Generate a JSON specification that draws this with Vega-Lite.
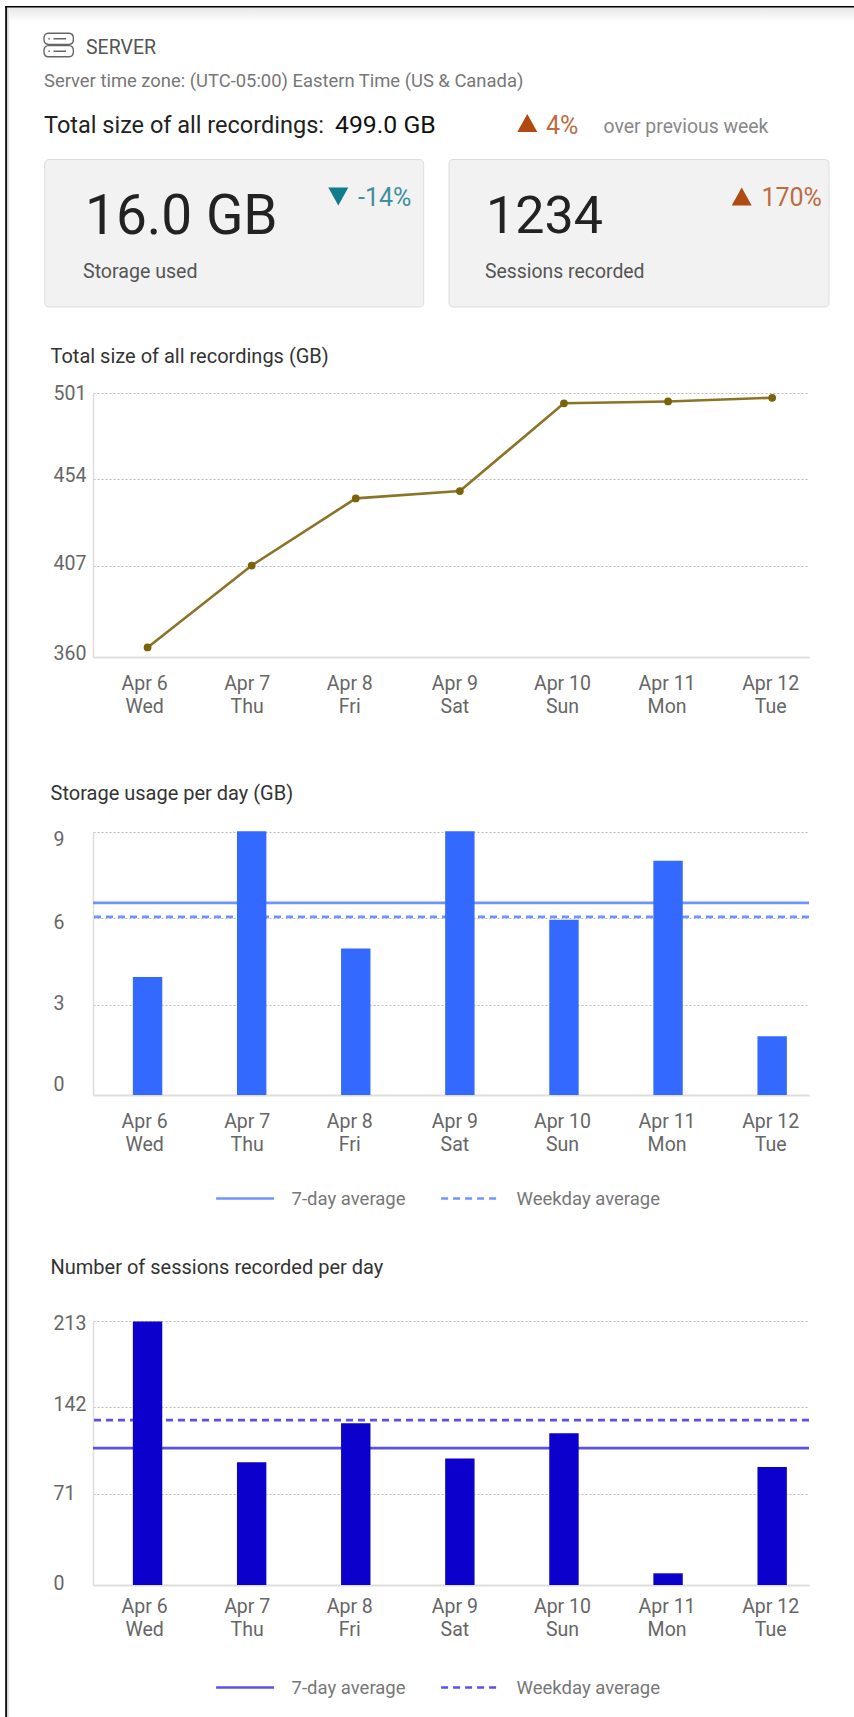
{"$schema":"https://vega.github.io/schema/vega-lite/v6.json","padding":0,"background":"white","autosize":{"type":"pad"},"bounds":"flush","spacing":0,"resolve":{"scale":{"color":"independent","strokeDash":"independent"},"legend":{"color":"independent","strokeDash":"independent"}},"config":{"view":{"stroke":null},"font":"Roboto","axis":{"labelFont":"Roboto","labelFontSize":19.5,"labelColor":"#666666","ticks":false,"title":null},"legend":{"labelFont":"Roboto","labelFontSize":18.5,"labelColor":"#777777"}},"vconcat":[
{"width":716,"height":393,"layer":[
{"data":{"values":[{"label":"page"}]},"mark":{"type":"rect","fill":"white"},"encoding":{"x":{"datum":0,"type":"quantitative","scale":{"domain":[0,854],"range":[-93,761],"nice":false,"zero":false},"axis":null},"x2":{"datum":854},"y":{"datum":0,"type":"quantitative","scale":{"domain":[0,1717],"range":[0,1717],"nice":false,"zero":false},"axis":null},"y2":{"datum":1717}}},
{"data":{"values":[{"label":"shadow top"}]},"mark":{"type":"rect","fill":{"gradient":"linear","x1":0,"y1":0,"x2":0,"y2":1,"stops":[{"offset":0,"color":"#e6e6e6"},{"offset":1,"color":"#ffffff"}]}},"encoding":{"x":{"datum":7,"type":"quantitative","axis":null},"x2":{"datum":854},"y":{"datum":7,"type":"quantitative","axis":null},"y2":{"datum":22}}},
{"data":{"values":[{"label":"shadow left"}]},"mark":{"type":"rect","fill":{"gradient":"linear","x1":0,"y1":0,"x2":1,"y2":0,"stops":[{"offset":0,"color":"#c4c4c4"},{"offset":1,"color":"#ffffff"}]}},"encoding":{"x":{"datum":6.5,"type":"quantitative","axis":null},"x2":{"datum":10},"y":{"datum":7,"type":"quantitative","axis":null},"y2":{"datum":1717}}},
{"data":{"values":[{"label":"frame top"}]},"mark":{"type":"rect","fill":"#000000"},"encoding":{"x":{"datum":5.2,"type":"quantitative","axis":null},"x2":{"datum":854},"y":{"datum":6,"type":"quantitative","axis":null},"y2":{"datum":7.4}}},
{"data":{"values":[{"label":"frame left"}]},"mark":{"type":"rect","fill":"#000000"},"encoding":{"x":{"datum":5.2,"type":"quantitative","axis":null},"x2":{"datum":6.9},"y":{"datum":6,"type":"quantitative","axis":null},"y2":{"datum":1717}}},
{"data":{"values":[{"label":"server icon"}]},"mark":{"type":"point","filled":false,"stroke":"#666666","strokeWidth":1.4,"size":870,"opacity":1,"shape":"M-0.7 -0.8H0.7Q1 -0.8 1 -0.42Q1 -0.04 0.7 -0.04H-0.7Q-1 -0.04 -1 -0.42Q-1 -0.8 -0.7 -0.8Z M-0.7 0.04H0.7Q1 0.04 1 0.42Q1 0.8 0.7 0.8H-0.7Q-1 0.8 -1 0.42Q-1 0.04 -0.7 0.04Z M-0.7 -0.42H-0.6 M-0.35 -0.42H0.5 M-0.7 0.42H-0.6 M-0.35 0.42H0.5"},"encoding":{"x":{"datum":58.7,"type":"quantitative","axis":null},"y":{"datum":45,"type":"quantitative","axis":null}}},
{"data":{"values":[{"label":"SERVER"}]},"mark":{"type":"text","align":"left","baseline":"middle","fontSize":19.5,"color":"#555555"},"encoding":{"text":{"field":"label"},"x":{"datum":86,"type":"quantitative","axis":null},"y":{"datum":47.5,"type":"quantitative","axis":null}}},
{"data":{"values":[{"label":"Server time zone: (UTC-05:00) Eastern Time (US & Canada)"}]},"mark":{"type":"text","align":"left","baseline":"middle","fontSize":18.4,"color":"#777777"},"encoding":{"text":{"field":"label"},"x":{"datum":44,"type":"quantitative","axis":null},"y":{"datum":80.5,"type":"quantitative","axis":null}}},
{"data":{"values":[{"label":"Total size of all recordings:"}]},"mark":{"type":"text","align":"left","baseline":"middle","fontSize":23.5,"color":"#222222"},"encoding":{"text":{"field":"label"},"x":{"datum":44,"type":"quantitative","axis":null},"y":{"datum":126,"type":"quantitative","axis":null}}},
{"data":{"values":[{"label":"499.0 GB"}]},"mark":{"type":"text","align":"left","baseline":"middle","fontSize":24.8,"fontWeight":400,"color":"#111111"},"encoding":{"text":{"field":"label"},"x":{"datum":335,"type":"quantitative","axis":null},"y":{"datum":126,"type":"quantitative","axis":null}}},
{"data":{"values":[{"label":"up"}]},"mark":{"type":"point","filled":true,"fill":"#b04a12","opacity":1,"size":400,"shape":"M-1 0.9L1 0.9L0 -0.9Z"},"encoding":{"x":{"datum":527.3,"type":"quantitative","axis":null},"y":{"datum":123,"type":"quantitative","axis":null}}},
{"data":{"values":[{"label":"4%"}]},"mark":{"type":"text","align":"left","baseline":"middle","fontSize":25,"color":"#bd6b42"},"encoding":{"text":{"field":"label"},"x":{"datum":546,"type":"quantitative","axis":null},"y":{"datum":125.5,"type":"quantitative","axis":null}}},
{"data":{"values":[{"label":"over previous week"}]},"mark":{"type":"text","align":"left","baseline":"middle","fontSize":19.4,"color":"#888888"},"encoding":{"text":{"field":"label"},"x":{"datum":603.5,"type":"quantitative","axis":null},"y":{"datum":126.5,"type":"quantitative","axis":null}}},
{"data":{"values":[{"label":"Storage used card"}]},"mark":{"type":"rect","fill":"#f2f2f2","stroke":"#dddddd","strokeWidth":1,"cornerRadius":4},"encoding":{"x":{"datum":44.7,"type":"quantitative","axis":null},"x2":{"datum":423.7},"y":{"datum":159.5,"type":"quantitative","axis":null},"y2":{"datum":307}}},
{"data":{"values":[{"label":"Sessions recorded card"}]},"mark":{"type":"rect","fill":"#f2f2f2","stroke":"#dddddd","strokeWidth":1,"cornerRadius":4},"encoding":{"x":{"datum":449,"type":"quantitative","axis":null},"x2":{"datum":829},"y":{"datum":159.5,"type":"quantitative","axis":null},"y2":{"datum":307}}},
{"data":{"values":[{"label":"16.0 GB"}]},"mark":{"type":"text","align":"left","baseline":"middle","fontSize":55,"color":"#222222"},"encoding":{"text":{"field":"label"},"x":{"datum":85,"type":"quantitative","axis":null},"y":{"datum":217,"type":"quantitative","axis":null}}},
{"data":{"values":[{"label":"1234"}]},"mark":{"type":"text","align":"left","baseline":"middle","fontSize":52,"color":"#222222"},"encoding":{"text":{"field":"label"},"x":{"datum":486,"type":"quantitative","axis":null},"y":{"datum":217,"type":"quantitative","axis":null}}},
{"data":{"values":[{"label":"Storage used"}]},"mark":{"type":"text","align":"left","baseline":"middle","fontSize":19.6,"color":"#555555"},"encoding":{"text":{"field":"label"},"x":{"datum":83,"type":"quantitative","axis":null},"y":{"datum":272,"type":"quantitative","axis":null}}},
{"data":{"values":[{"label":"Sessions recorded"}]},"mark":{"type":"text","align":"left","baseline":"middle","fontSize":19.4,"color":"#555555"},"encoding":{"text":{"field":"label"},"x":{"datum":485,"type":"quantitative","axis":null},"y":{"datum":272,"type":"quantitative","axis":null}}},
{"data":{"values":[{"label":"down"}]},"mark":{"type":"point","filled":true,"fill":"#0f7d8c","opacity":1,"size":400,"shape":"M-1 -0.9L1 -0.9L0 0.9Z"},"encoding":{"x":{"datum":338.3,"type":"quantitative","axis":null},"y":{"datum":196.5,"type":"quantitative","axis":null}}},
{"data":{"values":[{"label":"-14%"}]},"mark":{"type":"text","align":"left","baseline":"middle","fontSize":25,"color":"#3f8f9c"},"encoding":{"text":{"field":"label"},"x":{"datum":358,"type":"quantitative","axis":null},"y":{"datum":197.5,"type":"quantitative","axis":null}}},
{"data":{"values":[{"label":"up"}]},"mark":{"type":"point","filled":true,"fill":"#b04a12","opacity":1,"size":400,"shape":"M-1 0.9L1 0.9L0 -0.9Z"},"encoding":{"x":{"datum":741.7,"type":"quantitative","axis":null},"y":{"datum":196.5,"type":"quantitative","axis":null}}},
{"data":{"values":[{"label":"170%"}]},"mark":{"type":"text","align":"left","baseline":"middle","fontSize":25,"color":"#bd6b42"},"encoding":{"text":{"field":"label"},"x":{"datum":761.4,"type":"quantitative","axis":null},"y":{"datum":197.5,"type":"quantitative","axis":null}}},
{"data":{"values":[{"label":"Total size of all recordings (GB)"}]},"mark":{"type":"text","align":"left","baseline":"middle","fontSize":20,"color":"#333333"},"encoding":{"text":{"field":"label"},"x":{"datum":50.5,"type":"quantitative","axis":null},"y":{"datum":356.5,"type":"quantitative","axis":null}}}
]},
{"width":716,"height":264,"data":{"values":[{"day":"Apr 6","value":362.4},{"day":"Apr 7","value":407},{"day":"Apr 8","value":443.6},{"day":"Apr 9","value":447.6},{"day":"Apr 10","value":495.4},{"day":"Apr 11","value":496.4},{"day":"Apr 12","value":498.4}]},"encoding":{"x":{"field":"day","type":"nominal","sort":null,"scale":{"type":"point","padding":0.439,"align":0.597},"axis":{"labelAngle":0,"labelAlign":"center","labelBaseline":"top","labelPadding":17.5,"labelLineHeight":23,"labelOffset":{"condition":[{"test":"datum.label==='Apr 6'","value":-3.5},{"test":"datum.label==='Apr 7'","value":-5},{"test":"datum.label==='Apr 8'","value":-6.5},{"test":"datum.label==='Apr 9'","value":-5.5},{"test":"datum.label==='Apr 10'","value":-2},{"test":"datum.label==='Apr 11'","value":-1.5}],"value":-2},"domainColor":"#dddddd","domainWidth":2,"grid":false,"labelExpr":"[datum.label, {'Apr 6':'Wed','Apr 7':'Thu','Apr 8':'Fri','Apr 9':'Sat','Apr 10':'Sun','Apr 11':'Mon','Apr 12':'Tue'}[datum.label]]"}},"y":{"field":"value","type":"quantitative","scale":{"domain":[357.2,501],"nice":false,"zero":false},"axis":{"values":[360,407,454,501],"labelAlign":"left","labelPadding":40,"domainColor":"#dddddd","domainWidth":1.5,"grid":true,"gridColor":"#bbbbbb","gridDash":[2,2],"gridOpacity":{"condition":{"test":"datum.value===360","value":0},"value":1},"labelOffset":{"condition":[{"test":"datum.value===454","value":-3.7},{"test":"datum.value===407","value":-1.7},{"test":"datum.value===360","value":1.3}],"value":0}}}},"layer":[{"mark":{"type":"line","stroke":"#8a7426","strokeWidth":2.6}},{"mark":{"type":"point","filled":true,"fill":"#7a6308","opacity":1,"size":60}}]},
{"width":716,"height":175,"data":{"values":[{"label":"Storage usage per day (GB)"}]},"mark":{"type":"text","align":"left","baseline":"middle","fontSize":20,"color":"#333333"},"encoding":{"text":{"field":"label"},"x":{"datum":50.5,"type":"quantitative","scale":{"domain":[0,854],"range":[-93,761],"nice":false,"zero":false},"axis":null},"y":{"datum":794,"type":"quantitative","scale":{"domain":[657,832],"range":[0,175],"nice":false,"zero":false},"axis":null}}},
{"width":716,"height":263,"encoding":{"y":{"field":"value","type":"quantitative","scale":{"domain":[-0.14,9],"nice":false,"zero":false},"axis":{"values":[0,3,6,9],"labelAlign":"left","labelPadding":40,"domainColor":"#dddddd","domainWidth":1.5,"grid":true,"gridColor":"#bbbbbb","gridDash":[2,2],"gridOpacity":{"condition":{"test":"datum.value===0","value":0},"value":1},"labelOffset":{"condition":[{"test":"datum.value===9","value":7},{"test":"datum.value===6","value":3.7},{"test":"datum.value===3","value":-1},{"test":"datum.value===0","value":-6}],"value":0}}}},"layer":[
{"data":{"values":[{"series":"7-day average","value":6.54},{"series":"Weekday average","value":6.05}]},"mark":{"type":"rule","strokeWidth":2.8},"encoding":{"color":{"field":"series","type":"nominal","scale":{"domain":["7-day average","Weekday average"],"range":["#6f94ff","#6f94ff"]},"legend":{"title":null,"orient":"none","direction":"horizontal","legendX":121.6,"legendY":336,"symbolType":"stroke","symbolSize":3364,"symbolStrokeWidth":2.4,"labelOffset":16,"columnPadding":30}},"strokeDash":{"field":"series","type":"nominal","scale":{"domain":["7-day average","Weekday average"],"range":[[1,0],[7,5]]}}}},
{"data":{"values":[{"day":"Apr 6","value":3.96},{"day":"Apr 7","value":9.03},{"day":"Apr 8","value":4.95},{"day":"Apr 9","value":9.03},{"day":"Apr 10","value":5.95},{"day":"Apr 11","value":8},{"day":"Apr 12","value":1.9}]},"mark":{"type":"bar","width":29.4,"fill":"#3369ff"},"encoding":{"x":{"field":"day","type":"nominal","sort":null,"scale":{"type":"point","padding":0.439,"align":0.597},"axis":{"labelAngle":0,"labelAlign":"center","labelBaseline":"top","labelPadding":17.5,"labelLineHeight":23,"labelOffset":{"condition":[{"test":"datum.label==='Apr 6'","value":-3.5},{"test":"datum.label==='Apr 7'","value":-5},{"test":"datum.label==='Apr 8'","value":-6.5},{"test":"datum.label==='Apr 9'","value":-5.5},{"test":"datum.label==='Apr 10'","value":-2},{"test":"datum.label==='Apr 11'","value":-1.5}],"value":-2},"domainColor":"#dddddd","domainWidth":2,"grid":false,"labelExpr":"[datum.label, {'Apr 6':'Wed','Apr 7':'Thu','Apr 8':'Fri','Apr 9':'Sat','Apr 10':'Sun','Apr 11':'Mon','Apr 12':'Tue'}[datum.label]]"}},"y2":{"datum":-0.14}}}
]},
{"width":716,"height":226,"data":{"values":[{"label":"Number of sessions recorded per day"}]},"mark":{"type":"text","align":"left","baseline":"middle","fontSize":20,"color":"#333333"},"encoding":{"text":{"field":"label"},"x":{"datum":50.5,"type":"quantitative","scale":{"domain":[0,854],"range":[-93,761],"nice":false,"zero":false},"axis":null},"y":{"datum":1268,"type":"quantitative","scale":{"domain":[1095,1321],"range":[0,226],"nice":false,"zero":false},"axis":null}}},
{"width":716,"height":264,"encoding":{"y":{"field":"value","type":"quantitative","scale":{"domain":[-3.9,213],"nice":false,"zero":false},"axis":{"values":[0,71,142,213],"labelAlign":"left","labelPadding":40,"domainColor":"#dddddd","domainWidth":1.5,"grid":true,"gridColor":"#bbbbbb","gridDash":[2,2],"gridOpacity":{"condition":{"test":"datum.value===0","value":0},"value":1},"labelOffset":{"condition":[{"test":"datum.value===213","value":2.3},{"test":"datum.value===142","value":-2.7},{"test":"datum.value===0","value":3}],"value":0}}}},"layer":[
{"data":{"values":[{"series":"7-day average","value":108.6},{"series":"Weekday average","value":131.6}]},"mark":{"type":"rule","strokeWidth":2.8},"encoding":{"color":{"field":"series","type":"nominal","scale":{"domain":["7-day average","Weekday average"],"range":["#5a50f0","#5a50f0"]},"legend":{"title":null,"orient":"none","direction":"horizontal","legendX":121.6,"legendY":336,"symbolType":"stroke","symbolSize":3364,"symbolStrokeWidth":2.4,"labelOffset":16,"columnPadding":30}},"strokeDash":{"field":"series","type":"nominal","scale":{"domain":["7-day average","Weekday average"],"range":[[1,0],[7,5]]}}}},
{"data":{"values":[{"day":"Apr 6","value":212.5},{"day":"Apr 7","value":97},{"day":"Apr 8","value":128.9},{"day":"Apr 9","value":100},{"day":"Apr 10","value":120.7},{"day":"Apr 11","value":5.7},{"day":"Apr 12","value":93.1}]},"mark":{"type":"bar","width":29.4,"fill":"#0b00cc"},"encoding":{"x":{"field":"day","type":"nominal","sort":null,"scale":{"type":"point","padding":0.439,"align":0.597},"axis":{"labelAngle":0,"labelAlign":"center","labelBaseline":"top","labelPadding":12.5,"labelLineHeight":23,"labelOffset":{"condition":[{"test":"datum.label==='Apr 6'","value":-3.5},{"test":"datum.label==='Apr 7'","value":-5},{"test":"datum.label==='Apr 8'","value":-6.5},{"test":"datum.label==='Apr 9'","value":-5.5},{"test":"datum.label==='Apr 10'","value":-2},{"test":"datum.label==='Apr 11'","value":-1.5}],"value":-2},"domainColor":"#dddddd","domainWidth":2,"grid":false,"labelExpr":"[datum.label, {'Apr 6':'Wed','Apr 7':'Thu','Apr 8':'Fri','Apr 9':'Sat','Apr 10':'Sun','Apr 11':'Mon','Apr 12':'Tue'}[datum.label]]"}},"y2":{"datum":-3.9}}}
]}
]}
